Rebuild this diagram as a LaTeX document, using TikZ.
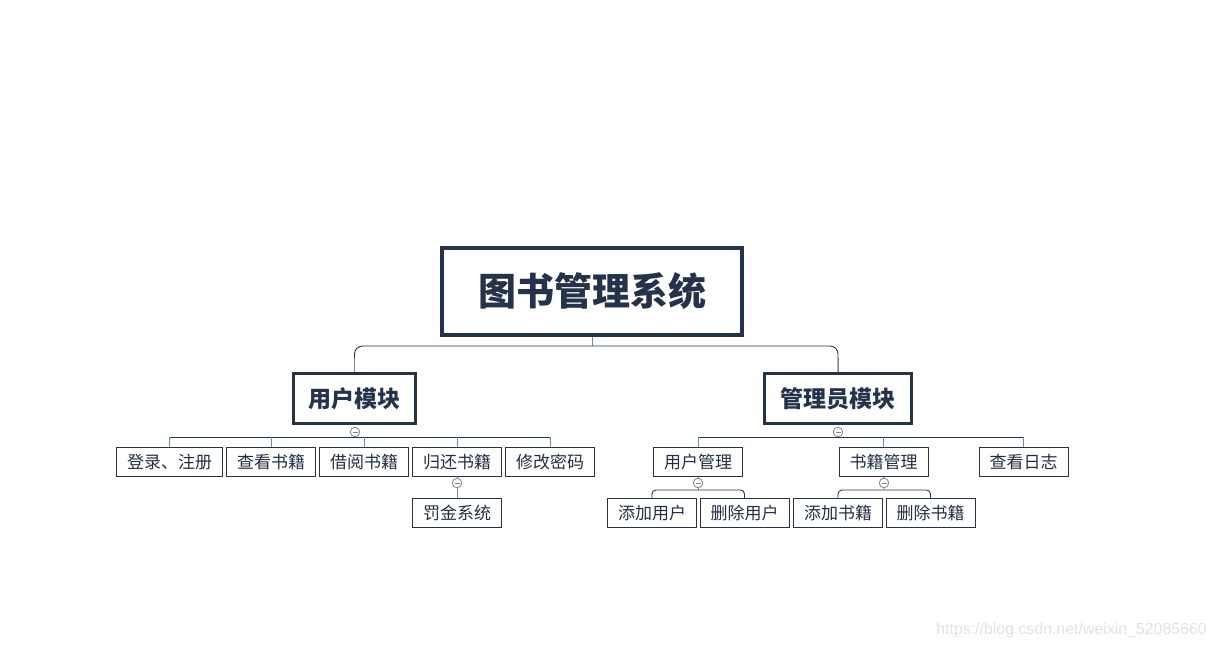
\documentclass[tikz,border=0pt]{standalone}
\usepackage{fontspec}
\newfontfamily\cjk{Noto Sans CJK SC}
\newfontfamily\wm{Liberation Sans}
\definecolor{navy}{HTML}{26324A}
\definecolor{drop}{HTML}{7E8594}
\definecolor{wmcol}{HTML}{E2E2E2}
\tikzset{
  rootbox/.style={draw=navy, line width=4pt, minimum width=300pt, minimum height=87pt, inner sep=0pt, font=\cjk\bfseries\fontsize{38}{40}\selectfont, text=navy},
  modbox/.style={draw=navy, line width=3pt, minimum height=50pt, inner sep=0pt, font=\cjk\bfseries\fontsize{23}{25}\selectfont, text=navy},
  leafbox/.style={draw=navy, line width=0.9pt, minimum width=89pt, minimum height=29pt, inner sep=0pt, font=\cjk\fontsize{17}{19}\selectfont, text=navy!90!black},
  toggle/.style={circle, draw=drop, line width=0.8pt, fill=white, minimum size=9.5pt, inner sep=0pt,
    path picture={\draw[drop, line width=0.8pt] ([xshift=-2.5pt]path picture bounding box.center) -- ([xshift=2.5pt]path picture bounding box.center);}},
  bus/.style={draw=navy, line width=0.9pt},
  dropline/.style={draw=drop, line width=0.9pt},
}
\begin{document}
\begin{tikzpicture}[x=1pt,y=-1pt]
\useasboundingbox (0,0) rectangle (1217,648);
% root
\node[rootbox] (root) at (592,291.5) {图书管理系统};
\node[modbox, minimum width=122pt] (um) at (354.5,398.5) {用户模块};
\node[modbox, minimum width=147pt] (am) at (838,398.5) {管理员模块};
\coordinate (rj) at (592,346);
\draw[dropline] (root.south) -- (rj);
\draw[bus, rounded corners=8pt] (um.north) |- (rj) -| (am.north);
\draw[dropline] (um.north) -- ++(0,-14);
\draw[dropline] (am.north) -- ++(0,-14);
% user module children
\node[leafbox, minimum width=106pt] (u1) at (169.5,462) {登录、注册};
\node[leafbox] (u2) at (271,462) {查看书籍};
\node[leafbox] (u3) at (364,462) {借阅书籍};
\node[leafbox] (u4) at (457,462) {归还书籍};
\node[leafbox] (u5) at (550,462) {修改密码};
\node[leafbox] (u41) at (457,513) {罚金系统};
\coordinate (ub) at (355,437);
\draw[bus] (u1.north |- ub) -- (u5.north |- ub);
\foreach \n in {u1,u2,u3,u4,u5}{\draw[dropline] (\n.north) -- (\n.north |- ub);}
\node[toggle] (ut) at (355,432) {};
\draw[dropline] (u4.south) -- (u41.north);
\node[toggle] (u4t) at (457,483) {};
% admin module children
\node[leafbox] (a1) at (698,462) {用户管理};
\node[leafbox] (a2) at (883.5,462) {书籍管理};
\node[leafbox] (a3) at (1023.5,462) {查看日志};
\coordinate (ab) at (838,437);
\draw[bus] (a1.north |- ab) -- (a3.north |- ab);
\foreach \n in {a1,a2,a3}{\draw[dropline] (\n.north) -- (\n.north |- ab);}
\node[toggle] (at) at (838,432) {};
\node[leafbox] (a11) at (652,513) {添加用户};
\node[leafbox] (a12) at (744.5,513) {删除用户};
\node[leafbox] (a21) at (838,513) {添加书籍};
\node[leafbox] (a22) at (930.5,513) {删除书籍};
\coordinate (a1b) at (698,490);
\coordinate (a2b) at (884,490);
\draw[dropline] (a1.south) -- (a1b);
\draw[dropline] (a2.south) -- (a2b);
\draw[bus, rounded corners=4pt] (a11.north) |- (a1b) -| (a12.north);
\draw[bus, rounded corners=4pt] (a21.north) |- (a2b) -| (a22.north);
\node[toggle] (a1t) at (698,483) {};
\node[toggle] (a2t) at (884,483) {};
% watermark
\node[anchor=east, inner sep=0pt, text=wmcol, font=\wm\fontsize{15.9}{18}\selectfont] (wmk) at (1207,630) {https://blog.csdn.net/weixin\_52085660};
\end{tikzpicture}
\end{document}
